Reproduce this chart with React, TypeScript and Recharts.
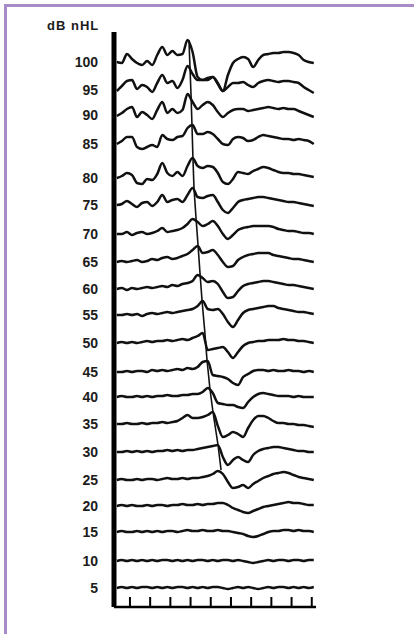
import { LineChart, Line, XAxis, YAxis } from 'recharts';

// stimulus levels, top trace first
const levels = [100, 95, 90, 85, 80, 75, 70, 65, 60, 55, 50, 45, 40, 35, 30, 25, 20, 15, 10, 5];
// vertical stacking offset of each trace (plot units)
const levelOffset = [545, 517, 492, 463, 429, 402, 373, 345, 318, 292, 264, 235, 210, 183, 155, 127, 101, 75, 46, 19];

// sample times (ms)
const timeMs = [0.35, 0.6, 0.85, 1.1, 1.35, 1.6, 1.85, 2.1, 2.35, 2.6, 2.85, 3.1, 3.35, 3.6, 3.85, 4.1, 4.35, 4.6, 4.85, 5.1,
  5.35, 5.6, 5.85, 6.1, 6.35, 6.6, 6.85, 7.1, 7.35, 7.6, 7.85, 8.1, 8.35, 8.6, 8.85, 9.1, 9.35, 9.6, 9.85, 10.1];
const msTicks = [1, 2, 3, 4, 5, 6, 7, 8, 9, 10];

// waveform deflection per level
const wave100 = [0, -1, 8, 3, -1, -3, 1, -3, 7, 15, 7, 11, 7, 8, 22, 10, -15, -18, -18, -15, -22, -29, -13, -1, 3, 5, 3, -5, 2, 7, 8, 9, 9, 10, 10, 9, 7, 2, 0, -1];
const wave95 = [-1, 4, 9, 10, 1, 5, 3, -2, 7, 15, 7, 9, 2, 10, 24, 16, 10, 10, 12, 13, 7, -1, 3, 7, 7, 8, 5, 3, 7, 9, 10, 9, 8, 9, 9, 8, 7, 3, 0, -3];
const wave90 = [-1, 2, 6, 8, -2, 3, 0, -4, 5, 13, 2, 6, 2, 5, 21, 13, 6, 10, 13, 10, 3, -2, 2, 5, 6, 6, 4, 5, 6, 7, 8, 7, 6, 7, 6, 6, 4, 2, 0, -2];
const wave85 = [0, 3, 7, 7, -3, -5, -3, -1, -3, 9, 5, 4, 7, 8, 16, 19, 10, 10, 12, 10, 5, 0, -1, 5, 7, 6, 3, 4, 7, 9, 8, 7, 6, 5, 5, 4, 5, 4, 3, 0];
const wave80 = [0, 2, 5, 3, -5, -6, -1, -2, 4, 15, 5, 2, 6, 2, 12, 20, 12, 10, 12, 11, 5, -4, -6, -1, 6, 5, 4, 7, 9, 11, 10, 8, 6, 5, 5, 4, 4, 3, 2, 1];
const wave75 = [0, 1, 4, 1, -2, 2, 3, -1, 3, 10, 3, 5, 6, 3, 10, 17, 8, 7, 9, 10, 3, -5, -8, -3, 3, 5, 6, 7, 8, 8, 7, 6, 5, 4, 3, 3, 2, 1, 0, -1];
const wave70 = [0, 0, 2, -1, 1, 2, 0, 1, 3, 6, 2, 3, 4, 6, 10, 15, 12, 8, 10, 13, 8, 0, -5, -1, 4, 6, 7, 8, 8, 8, 8, 7, 5, 4, 3, 3, 2, 1, 1, 0];
const wave65 = [0, 1, 0, 1, 2, 0, 1, 3, 2, 4, 5, 3, 4, 6, 8, 12, 16, 9, 10, 12, 7, 0, -5, -4, 2, 5, 7, 8, 9, 9, 9, 7, 6, 5, 4, 3, 3, 2, 1, 0];
const wave60 = [0, 1, -1, 1, 0, 1, 2, 1, 2, 3, 2, 4, 3, 5, 6, 8, 14, 11, 7, 8, 5, -3, -9, -8, -2, 3, 5, 6, 7, 8, 8, 7, 6, 5, 4, 4, 3, 2, 1, 0];
const wave55 = [0, 0, 1, 0, 1, -1, 1, 2, 1, 2, 3, 2, 3, 4, 5, 6, 9, 14, 6, 5, 6, 1, -7, -12, -5, 2, 5, 6, 7, 8, 9, 9, 7, 6, 5, 4, 3, 3, 2, 1];
const wave50 = [0, 1, 0, 1, 0, 1, 2, 1, 2, 2, 3, 2, 3, 4, 3, 5, 7, 10, -7, -6, -5, -4, -9, -15, -9, -3, 0, 1, 2, 2, 3, 3, 3, 4, 3, 3, 2, 2, 1, 0];
const wave45 = [0, 0, 1, 0, 1, 1, 0, 2, 1, 2, 1, 2, 3, 2, 4, 3, 5, 10, 11, -3, -4, -5, -7, -11, -13, -5, -2, 1, 2, 2, 1, 2, 1, 1, 2, 1, 1, 0, 1, 0];
const wave40 = [0, 1, 0, 0, 1, 0, 1, 0, 1, 1, 2, 1, 1, 2, 2, 3, 3, 5, 9, 4, -6, -7, -8, -8, -10, -11, -5, 0, 3, 4, 3, 2, 1, 1, 1, 0, 1, 0, 0, 0];
const wave35 = [0, 0, 1, 0, 0, 1, 0, 1, 1, 2, 1, 2, 3, 6, 9, 6, 6, 7, 9, 12, -2, -13, -11, -8, -10, -13, -4, 4, 8, 8, 6, 3, 1, 1, 0, 0, -1, -1, -2, -3];
const wave30 = [0, 0, 1, 0, 1, 0, 1, 0, 1, 1, 2, 1, 2, 1, 2, 2, 3, 4, 5, 6, 7, -5, -13, -8, -5, -8, -10, -3, 1, 3, 4, 5, 5, 4, 3, 2, 1, 1, 0, 0];
const wave25 = [0, 1, 0, 0, 1, 0, 1, 1, 0, 1, 2, 1, 1, 2, 1, 2, 2, 3, 4, 6, 9, 6, -2, -8, -7, -5, -8, -4, -1, 2, 4, 6, 7, 8, 7, 5, 3, 2, 1, 0];
const wave20 = [0, 1, 0, 1, 0, 0, 1, 0, 1, 1, 0, 1, 1, 2, 1, 1, 2, 1, 2, 2, 3, 3, 1, -2, -4, -6, -7, -5, -3, -1, 0, 1, 2, 3, 4, 3, 3, 2, 1, 1];
const wave15 = [0, 1, 0, 0, 1, 0, 1, 0, 1, 0, 1, 1, 0, 1, 2, 1, 1, 2, 1, 1, 2, 1, 1, 0, -1, -2, -4, -5, -4, -2, 0, 1, 1, 2, 2, 1, 2, 1, 1, 0];
const wave10 = [0, 1, 0, 1, 0, 1, 0, 1, 0, 1, 1, 0, 1, 0, 1, 0, 1, 1, 0, 1, 0, 1, 1, 0, 1, 0, -1, -2, -1, 0, 1, 0, 1, 1, 0, 1, 1, 0, 1, 1];
const wave5 = [0, 1, 0, 1, 0, 1, 1, 0, 1, 0, 1, 0, 1, 1, 0, 1, 0, 1, 0, 1, 1, 0, -1, 0, 1, 0, 1, 0, -1, 0, 1, 0, 1, 1, 0, 1, 0, 1, 0, 1];

const waves = [wave100, wave95, wave90, wave85, wave80, wave75, wave70, wave65, wave60, wave55,
  wave50, wave45, wave40, wave35, wave30, wave25, wave20, wave15, wave10, wave5];

// wave V latency (ms) and peak height, 100 dB down to 25 dB
const vLatency = [3.92, 3.97, 4.02, 4.07, 4.12, 4.17, 4.27, 4.37, 4.47, 4.57, 4.71, 4.81, 4.96, 5.11, 5.36, 5.51];
const vAmp = [22, 24, 22, 19, 19, 17, 16, 17, 15, 14, 10, 13, 8, 12, 7, 10];

const rows = timeMs.map((t, i) => {
  const row: any = { t };
  levels.forEach((lv, j) => {
    row['db' + lv] = levelOffset[j] + waves[j][i];
  });
  return row;
});

const vLine = vLatency.map((t, j) => ({ t, v: levelOffset[j] + vAmp[j] }));

const font = '"Liberation Sans", Arial, sans-serif';

function LevelTick(props: any) {
  const { x, y, payload } = props;
  const idx = levelOffset.indexOf(payload.value);
  return (
    <text x={x} y={y} dy="0.36em" textAnchor="end" fontFamily={font} fontWeight="bold" fontSize={14} fill="#1c1c1c">
      {levels[idx]}
    </text>
  );
}

// upward tick marks on the time axis
function MsTick(props: any) {
  const { x, y } = props;
  return <line x1={x} x2={x} y1={y} y2={y - 10} stroke="#000" strokeWidth={2} />;
}

export default function App() {
  return (
    <div style={{ position: 'absolute', left: 0, top: 0, width: 414, height: 634, background: '#fff', overflow: 'hidden' }}>
      <div style={{ position: 'absolute', left: 4, top: 4, width: 420, height: 640, borderTop: '3px solid #a88cc8', borderLeft: '3px solid #a88cc8' }} />
      <div style={{ position: 'absolute', left: 47, top: 19, fontFamily: font, fontWeight: 'bold', fontSize: 13, lineHeight: '13px', letterSpacing: 1, color: '#1c1c1c' }}>
        dB nHL
      </div>
      <div style={{ position: 'absolute', left: 0, top: 0 }}>
        <LineChart width={414} height={634} data={rows} margin={{ top: 32, right: 98, bottom: 7, left: 54 }}>
          <XAxis
            dataKey="t"
            type="number"
            domain={[0.21, 10.21]}
            ticks={msTicks}
            interval={0}
            allowDataOverflow
            height={20}
            tickSize={0}
            tickMargin={0}
            tickLine={false}
            tick={<MsTick />}
            axisLine={{ stroke: '#000', strokeWidth: 2.5 }}
          />
          <YAxis
            type="number"
            domain={[0, 575]}
            ticks={levelOffset}
            interval={0}
            width={60}
            tickSize={0}
            tickMargin={16}
            tickLine={false}
            axisLine={{ stroke: '#000', strokeWidth: 5 }}
            tick={<LevelTick />}
          />
          {levels.map((lv) => (
            <Line
              key={lv}
              dataKey={'db' + lv}
              type="monotone"
              stroke="#111"
              strokeWidth={2.5}
              dot={false}
              isAnimationActive={false}
            />
          ))}
          <Line data={vLine} dataKey="v" type="linear" stroke="#111" strokeWidth={1.6} dot={false} isAnimationActive={false} />
        </LineChart>
      </div>
    </div>
  );
}
